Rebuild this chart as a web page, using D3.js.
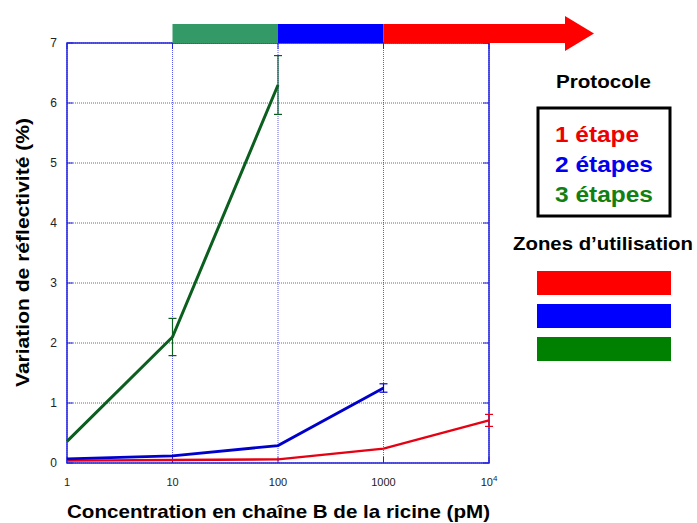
<!DOCTYPE html>
<html><head><meta charset="utf-8">
<script src="https://cdn.jsdelivr.net/npm/d3@7"></script>
<style>body{margin:0;background:#fff;} text{font-family:"Liberation Sans",Arial,sans-serif;}</style>
</head><body>
<svg id="c" width="697" height="523"></svg>
<script>
const concentrations = [1, 10, 100, 1000, 10000];
const step1 = [0.04, 0.05, 0.06, 0.24, 0.71];
const step1Err = [0, 0, 0, 0, 0.1];
const step2 = [0.07, 0.12, 0.29, 1.25];
const step2Err = [0, 0, 0, 0.07];
const step3 = [0.36, 2.1, 6.3];
const step3Err = [0, 0.31, 0.49];
const yTicks = [0, 1, 2, 3, 4, 5, 6, 7];
const xTickLabels = ["1", "10", "100", "1000", "10^4"];
const legendLabels = ["1 étape", "2 étapes", "3 étapes"];
const legendColors = ["#ee0000", "#0000ee", "#118011"];
const zoneRanges = [[10, 100], [100, 1000], [1000, 10000]];
const zoneColors = ["#339966", "#0000ff", "#ff0000"];

const svg = d3.select("#c");
const x = d3.scaleLog().domain([1, 10000]).range([67, 489]);
const y = d3.scaleLinear().domain([0, 7]).range([463, 43]);
const frame = "#2222dd";

// grid
const g = svg.append("g");
yTicks.forEach(t => {
  g.append("line").attr("x1", x(1)).attr("x2", x(10000)).attr("y1", y(t)).attr("y2", y(t))
   .attr("stroke", "#3333ee").attr("stroke-width", 1).attr("stroke-dasharray", "1,1").attr("opacity", 0.8);
});
concentrations.forEach(c => {
  g.append("line").attr("x1", x(c)).attr("x2", x(c)).attr("y1", y(0)).attr("y2", y(7))
   .attr("stroke", "#3333ee").attr("stroke-width", 1).attr("stroke-dasharray", "1,1").attr("opacity", 0.8);
});
// ticks inside
yTicks.forEach(t => {
  g.append("line").attr("x1", x(1)).attr("x2", x(1) + 6).attr("y1", y(t)).attr("y2", y(t)).attr("stroke", frame);
  g.append("line").attr("x1", x(10000)).attr("x2", x(10000) - 6).attr("y1", y(t)).attr("y2", y(t)).attr("stroke", frame);
});
concentrations.forEach(c => {
  g.append("line").attr("x1", x(c)).attr("x2", x(c)).attr("y1", y(0)).attr("y2", y(0) - 6).attr("stroke", frame);
  g.append("line").attr("x1", x(c)).attr("x2", x(c)).attr("y1", y(7)).attr("y2", y(7) + 6).attr("stroke", frame);
});
// frame
g.append("rect").attr("x", x(1)).attr("y", y(7)).attr("width", x(10000) - x(1)).attr("height", y(0) - y(7))
 .attr("fill", "none").attr("stroke", frame).attr("stroke-width", 1.5);

// y tick labels
yTicks.forEach(t => {
  svg.append("text").attr("x", 57).attr("y", y(t) + 4).attr("text-anchor", "end")
   .attr("font-size", 12).attr("fill", "#222").text(t);
});
// x tick labels
xTickLabels.forEach((l, i) => {
  const t = svg.append("text").attr("x", x(concentrations[i])).attr("y", 486).attr("text-anchor", "middle")
   .attr("font-size", 11).attr("fill", "#222");
  if (l.includes("^")) {
    const [b, e] = l.split("^");
    t.append("tspan").text(b);
    t.append("tspan").attr("dy", -5).attr("font-size", 8).text(e);
  } else t.text(l);
});

// axis titles
svg.append("text").attr("x", 67).attr("y", 518)
  .attr("font-size", 18.5).attr("font-weight", "bold")
  .attr("textLength", 423).attr("lengthAdjust", "spacingAndGlyphs")
  .text("Concentration en chaîne B de la ricine (pM)");
svg.append("text").attr("transform", "translate(29,387) rotate(-90)")
  .attr("font-size", 19).attr("font-weight", "bold")
  .attr("textLength", 269).attr("lengthAdjust", "spacingAndGlyphs")
  .text("Variation de réflectivité (%)");

// series
const lineColors = ["#e60012", "#0000cc", "#0a5e1e"];
const series = [
  {vals: step1, err: step1Err, color: lineColors[0], w: 2.4},
  {vals: step2, err: step2Err, color: lineColors[1], w: 2.8},
  {vals: step3, err: step3Err, color: lineColors[2], w: 3}
];
const line = d3.line().x(d => x(d[0])).y(d => y(d[1]));
series.forEach(s => {
  const pts = s.vals.map((v, i) => [concentrations[i], v]);
  svg.append("path").attr("d", line(pts)).attr("fill", "none").attr("stroke", s.color).attr("stroke-width", s.w);
  pts.forEach((p, i) => {
    const e = s.err[i];
    if (e > 0) {
      const cx = x(p[0]);
      svg.append("line").attr("x1", cx).attr("x2", cx).attr("y1", y(p[1] - e)).attr("y2", y(p[1] + e)).attr("stroke", s.color).attr("stroke-width", 1.2);
      [p[1] - e, p[1] + e].forEach(v => svg.append("line").attr("x1", cx - 4).attr("x2", cx + 4).attr("y1", y(v)).attr("y2", y(v)).attr("stroke", s.color).attr("stroke-width", 1.2));
    }
  });
});

// zone bar on top
const barTop = 24, barBot = 43;
zoneRanges.forEach((r, i) => {
  svg.append("rect").attr("x", x(r[0])).attr("y", barTop).attr("width", x(r[1]) - x(r[0])).attr("height", barBot - barTop)
    .attr("fill", zoneColors[i]);
});
// arrow extension
svg.append("path").attr("d", `M${x(10000)},${barTop} L565,${barTop} L565,16 L594,33.5 L565,51 L565,${barBot} L${x(10000)},${barBot} Z`)
  .attr("fill", zoneColors[2]);

// legend
svg.append("text").attr("x", 556).attr("y", 88).attr("font-size", 18).attr("font-weight", "bold")
  .attr("textLength", 95).attr("lengthAdjust", "spacingAndGlyphs").text("Protocole");
svg.append("rect").attr("x", 538).attr("y", 108).attr("width", 132).attr("height", 108).attr("fill", "none").attr("stroke", "#000").attr("stroke-width", 3);
const legendLens = [84, 98, 98];
legendLabels.forEach((l, i) => {
  svg.append("text").attr("x", 555).attr("y", 142 + i * 30).attr("font-size", 22).attr("font-weight", "bold")
    .attr("fill", legendColors[i]).attr("textLength", legendLens[i]).attr("lengthAdjust", "spacingAndGlyphs").text(l);
});
svg.append("text").attr("x", 513).attr("y", 250).attr("font-size", 18).attr("font-weight", "bold")
  .attr("textLength", 180).attr("lengthAdjust", "spacingAndGlyphs").text("Zones d’utilisation");
const swatchColors = ["#ff0000", "#0000ff", "#008000"];
swatchColors.forEach((c, i) => {
  svg.append("rect").attr("x", 537).attr("y", 271 + i * 33).attr("width", 134).attr("height", 24).attr("fill", c);
});
</script>
</body></html>
